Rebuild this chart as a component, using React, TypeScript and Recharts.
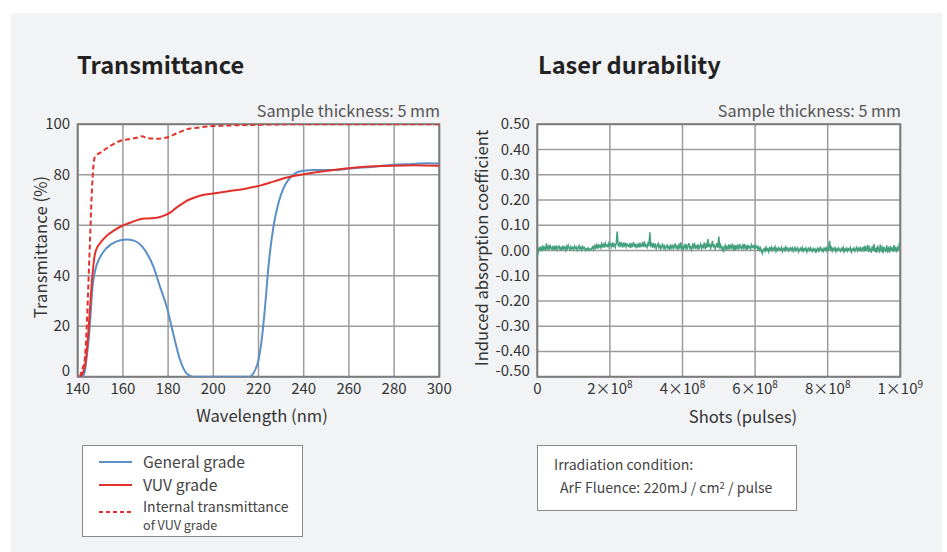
import React from 'react';
import { LineChart, Line, XAxis, YAxis, CartesianGrid, Legend, ReferenceArea } from 'recharts';

const FONT = '"Noto Sans CJK JP", "Noto Sans", sans-serif';

// ---------- Transmittance data ----------
const wavelengthTicks = [140, 160, 180, 200, 220, 240, 260, 280, 300];
const transmittanceTicks = [0, 20, 40, 60, 80, 100];

const generalWavelengths = [141.5, 142.5, 143.5, 144, 145, 145.5, 146.6, 147.7, 150, 152.8, 157, 161.7, 164.6, 169, 173.5, 176.4, 179.4, 182.3, 185.3, 188.2, 191, 200, 210, 216, 217.7, 220, 221.4, 222.9, 224.4, 226.6, 228.8, 231, 233.2, 236.2, 240, 244.3, 253, 262, 271, 279.7, 288.5, 295, 300];
const generalValues = [0, 0.5, 4, 8, 16, 22, 36, 42, 47.5, 51, 53.5, 54.4, 54, 51, 43.6, 35.7, 27.7, 17, 6.6, 1.3, 0, 0, 0, 0, 1.3, 6.6, 14.5, 27.7, 43.6, 59.4, 68.7, 74.6, 78, 80.6, 81.6, 81.9, 81.9, 82.6, 83.2, 84, 84.3, 84.6, 84.5];

const vuvWavelengths = [141, 142.5, 143.5, 144.5, 145.5, 146.5, 147.5, 148.5, 150, 151.4, 153.5, 155.8, 159.5, 163.2, 167.6, 170.5, 175, 177.9, 180.9, 183, 185.3, 187.5, 189.7, 194.1, 200, 206, 214.8, 220.7, 226.6, 232.5, 240, 247.2, 256, 265, 276.7, 288.5, 300];
const vuvValues = [0, 2, 6, 15, 28, 40, 48, 51, 53, 54.5, 56.3, 57.8, 59.7, 61, 62.4, 62.7, 63, 63.7, 65, 66.5, 68, 69.3, 70.3, 71.7, 72.6, 73.4, 74.6, 75.7, 77.3, 78.9, 80.2, 81.2, 82.2, 83, 83.5, 83.8, 83.6];

const internalWavelengths = [141, 142, 143, 144, 144.7, 145.4, 146.2, 147, 147.7, 149.9, 152, 154.3, 158.7, 163.2, 167.6, 168.5, 170.5, 175, 179.4, 183.8, 188.2, 194.1, 200, 210.4, 225, 240, 300];
const internalValues = [0, 3, 6, 20, 36, 53, 72, 84, 87.3, 88.7, 90, 91.4, 93.4, 94.2, 95, 95.3, 94.6, 94.3, 94.8, 96.4, 98, 98.8, 99.3, 99.6, 99.9, 100, 100];

const generalData = generalWavelengths.map((w, i) => ({ w, t: generalValues[i] }));
const vuvData = vuvWavelengths.map((w, i) => ({ w, t: vuvValues[i] }));
const internalData = internalWavelengths.map((w, i) => ({ w, t: internalValues[i] }));

// ---------- Laser durability data ----------
const shotTicks = [0, 2e8, 4e8, 6e8, 8e8, 1e9];
const shotTickMantissas = ['0', '2', '4', '6', '8', '1'];
const shotTickExponents = ['', '8', '8', '8', '8', '9'];
const coefTicks = [-0.5, -0.4, -0.3, -0.2, -0.1, 0, 0.1, 0.2, 0.3, 0.4, 0.5];
const shotStep = 2.5e6;
const coefValues = [
  -0.022, -0.005, 0.010, 0.002, 0.015, -0.002, 0.020, 0.006, 0.012, 0.000, 0.028, 0.008, 0.016, 0.003, 0.022, 0.010, 0.005, 0.018, 0.001, 0.014,
  0.007, 0.020, 0.003, 0.012, 0.017, 0.004, 0.011, 0.000, 0.019, 0.008, 0.013, 0.002, 0.016, 0.006, 0.021, 0.009, 0.003, 0.015, 0.007, 0.012,
  0.004, 0.017, 0.009, 0.014, 0.001, 0.011, 0.019, 0.006, 0.013, 0.002, 0.016, 0.008, 0.012, 0.000, 0.007, 0.003, 0.010, 0.001, 0.006, 0.002,
  0.009, 0.015, 0.004, 0.018, 0.010, 0.022, 0.008, 0.025, 0.013, 0.020, 0.011, 0.027, 0.016, 0.024, 0.012, 0.029, 0.018, 0.022, 0.014, 0.030,
  0.020, 0.026, 0.015, 0.032, 0.018, 0.024, 0.013, 0.030, 0.075, 0.022, 0.017, 0.034, 0.020, 0.028, 0.012, 0.026, 0.019, 0.031, 0.014, 0.025,
  0.021, 0.016, 0.029, 0.011, 0.024, 0.018, 0.033, 0.015, 0.027, 0.009, 0.022, 0.016, 0.030, 0.012, 0.025, 0.019, 0.028, 0.014, 0.036, 0.017,
  0.022, 0.013, 0.028, 0.017, 0.072, 0.020, 0.026, 0.011, 0.030, 0.015, 0.023, 0.008, 0.019, 0.027, 0.012, 0.021, 0.006, 0.017, 0.024, 0.010,
  0.018, 0.005, 0.015, 0.022, 0.009, 0.016, 0.003, 0.019, 0.011, 0.024, 0.007, 0.014, 0.028, 0.010, 0.017, 0.004, 0.021, 0.012, 0.032, 0.008,
  0.015, 0.006, 0.020, 0.011, 0.026, 0.004, 0.017, 0.029, 0.009, 0.014, 0.003, 0.021, 0.012, 0.030, 0.007, 0.018, 0.010, 0.024, 0.005, 0.016,
  0.026, 0.008, 0.019, 0.013, 0.031, 0.006, 0.022, 0.011, 0.045, 0.014, 0.027, 0.009, 0.020, 0.038, 0.012, 0.024, 0.007, 0.018, 0.029, 0.010,
  0.055, 0.014, 0.022, 0.004, 0.016, -0.006, 0.012, 0.020, 0.002, 0.015, 0.008, 0.024, 0.005, 0.018, 0.011, 0.027, 0.006, 0.016, 0.001, 0.021,
  0.009, 0.019, 0.004, 0.025, 0.012, 0.007, 0.020, 0.010, 0.026, 0.008, 0.017, 0.003, 0.022, 0.011, 0.015, 0.006, 0.023, 0.013, 0.018, 0.009,
  0.021, 0.012, 0.017, 0.005, 0.014, 0.002, 0.010, -0.004, -0.012, 0.003, 0.008, -0.002, 0.012, 0.001, 0.007, -0.005, 0.010, 0.004, 0.013, 0.000,
  0.009, 0.003, 0.014, -0.003, 0.008, 0.001, 0.011, 0.005, 0.002, 0.012, -0.004, 0.007, 0.010, 0.000, 0.013, 0.004, 0.009, -0.002, 0.006, 0.011,
  0.002, 0.010, -0.003, 0.008, 0.013, -0.001, 0.006, 0.011, -0.005, 0.004, 0.009, 0.001, 0.012, -0.003, 0.007, 0.002, 0.010, -0.006, 0.005, 0.009,
  0.000, 0.011, 0.003, -0.004, 0.008, 0.001, 0.006, -0.009, 0.004, 0.010, -0.002, 0.007, 0.012, 0.000, 0.005, -0.004, 0.009, 0.002, 0.011, -0.001,
  0.010, 0.004, 0.038, 0.006, 0.012, -0.002, 0.009, 0.003, 0.011, -0.004, 0.007, 0.001, 0.010, 0.004, -0.003, 0.008, 0.002, 0.012, -0.005, 0.006,
  0.000, 0.009, -0.002, 0.007, 0.003, 0.011, -0.006, 0.005, 0.001, 0.010, -0.003, 0.006, 0.013, -0.001, 0.008, 0.002, 0.015, -0.004, 0.007, 0.012,
  -0.004, 0.018, -0.002, 0.009, 0.022, -0.006, 0.012, 0.003, -0.008, 0.016, 0.000, 0.025, -0.005, 0.010, -0.009, 0.019, 0.002, -0.004, 0.023, 0.001,
  0.011, -0.010, 0.014, 0.004, -0.006, 0.020, -0.002, 0.008, -0.008, 0.017, 0.000, 0.012, -0.005, 0.021, -0.003, 0.009, -0.007, 0.015, 0.002, 0.028, 0.035,
];
const durabilityData = coefValues.map((c, i) => ({ s: i * shotStep, c }));

const legendItems = [
  { label: 'General grade', sub: '', color: '#5b8fc7', dash: '', size: 15.7 },
  { label: 'VUV grade', sub: '', color: '#e2312b', dash: '', size: 15.7 },
  { label: 'Internal transmittance', sub: 'of VUV grade', color: '#e2312b', dash: '4 3', size: 14 },
];

const BLUE = '#5b8fc7';
const RED = '#e2312b';
const GREEN = '#42a07c';
const GRID = '#9c9c9c';
const BORDER = '#7c7c7c';
const TICK = { fontSize: 15, fill: '#333', fontFamily: FONT };

const TransLegend = () => (
  <div
    style={{
      width: 221,
      height: 92,
      boxSizing: 'border-box',
      border: '1px solid #8a8a8a',
      background: '#fff',
      fontFamily: FONT,
      color: '#444',
      position: 'relative',
    }}
  >
    {legendItems.map((it, i) => (
      <div key={i} style={{ position: 'absolute', left: 0, top: 6 + i * 22.5, width: 219 }}>
        <svg width={40} height={10} style={{ position: 'absolute', left: 16, top: i === 2 ? 10 : 5 }}>
          <line x1={0} y1={5} x2={33} y2={5} stroke={it.color} strokeWidth={2} strokeDasharray={it.dash || undefined} />
        </svg>
        <div
          style={{
            position: 'absolute',
            left: 60,
            top: it.sub ? 1 : 0,
            fontSize: it.size,
            lineHeight: it.sub ? '16px' : '20px',
            whiteSpace: 'nowrap',
          }}
        >
          {it.label}
        </div>
        {it.sub ? (
          <div style={{ position: 'absolute', left: 60, top: 21.3, fontSize: 12.6, lineHeight: '14px', whiteSpace: 'nowrap' }}>
            {it.sub}
          </div>
        ) : null}
      </div>
    ))}
  </div>
);

const makeYTick = (minValue: number, fmt: (v: number) => string) => (props: any) => {
  const { x, y, payload } = props;
  const v = payload.value as number;
  const shift = Math.abs(v - minValue) < 1e-9 ? -6 : 0;
  return (
    <text x={x} y={y + shift} dy={5} textAnchor="end" fontSize={15} fill="#333" fontFamily={FONT}>
      {fmt(v)}
    </text>
  );
};

const TransYTick = makeYTick(0, (v) => String(v));
const CoefYTick = makeYTick(-0.5, (v) => v.toFixed(2));

const ShotTick = (props: any) => {
  const { x, y, payload, index } = props;
  const idx = typeof index === 'number' ? index : shotTicks.indexOf(payload.value);
  const m = shotTickMantissas[idx] ?? '';
  const e = shotTickExponents[idx] ?? '';
  return (
    <text x={x} y={y + 11} textAnchor="middle" fontSize={15} fill="#333" fontFamily={FONT}>
      {e ? (
        <>
          <tspan>{m + '×10'}</tspan>
          <tspan fontSize={10} dy={-6}>{e}</tspan>
        </>
      ) : (
        <tspan>{m}</tspan>
      )}
    </text>
  );
};

const textBase: React.CSSProperties = { position: 'absolute', fontFamily: FONT, whiteSpace: 'nowrap' };

export default function App() {
  return (
    <div style={{ position: 'absolute', left: 0, top: 0, width: 947, height: 552, background: '#fff', overflow: 'hidden' }}>
      <div style={{ position: 'absolute', left: 11, top: 13, width: 931, height: 539, background: '#f2f3f5' }} />

      {/* Titles */}
      <div style={{ ...textBase, left: 77, top: 47, fontSize: 23.6, fontWeight: 700, color: '#222', lineHeight: '34px' }}>Transmittance</div>
      <div style={{ ...textBase, left: 538, top: 47, fontSize: 23.6, fontWeight: 700, color: '#222', lineHeight: '34px' }}>Laser durability</div>

      <div style={{ ...textBase, right: 947 - 440, top: 98, fontSize: 16.2, color: '#555', lineHeight: '24px' }}>Sample thickness: 5 mm</div>
      <div style={{ ...textBase, right: 947 - 901, top: 98, fontSize: 16.2, color: '#555', lineHeight: '24px' }}>Sample thickness: 5 mm</div>

      {/* Left chart */}
      <div style={{ position: 'absolute', left: 0, top: 0 }}>
        <LineChart width={460} height={552} margin={{ top: 124.3, right: 20.7, bottom: 145.3, left: 37.7 }}>
          <CartesianGrid stroke={GRID} strokeWidth={1.5} fill="#fff" />
          <XAxis
            type="number"
            dataKey="w"
            domain={[140, 300]}
            ticks={wavelengthTicks}
            allowDataOverflow
            axisLine={false}
            tickLine={false}
            tickSize={0}
            tickMargin={6.5}
            tick={TICK}
            height={30}
            interval={0}
          />
          <YAxis
            type="number"
            dataKey="t"
            domain={[0, 100]}
            ticks={transmittanceTicks}
            allowDataOverflow
            axisLine={false}
            tickLine={false}
            tickSize={0}
            tickMargin={7.5}
            tick={<TransYTick />}
            width={40}
            interval={0}
          />
          <ReferenceArea x1={140} x2={300} y1={0} y2={100} fill="none" stroke={BORDER} strokeWidth={2} fillOpacity={0} />
          <Line data={generalData} dataKey="t" type="monotone" stroke={BLUE} strokeWidth={2} dot={false} isAnimationActive={false} name="General grade" />
          <Line data={vuvData} dataKey="t" type="monotone" stroke={RED} strokeWidth={2} dot={false} isAnimationActive={false} name="VUV grade" />
          <Line data={internalData} dataKey="t" type="monotone" stroke={RED} strokeWidth={2} strokeDasharray="5 3" dot={false} isAnimationActive={false} name="Internal transmittance of VUV grade" />
          <Legend
            layout="vertical"
            align="center"
            verticalAlign="middle"
            content={() => <TransLegend />}
            wrapperStyle={{ position: 'absolute', left: 82, top: 445, width: 221, height: 92, bottom: 'auto', right: 'auto' }}
          />
        </LineChart>
      </div>

      {/* Right chart */}
      <div style={{ position: 'absolute', left: 460, top: 0 }}>
        <LineChart width={487} height={552} data={durabilityData} margin={{ top: 124.3, right: 46.7, bottom: 145.3, left: 27.3 }}>
          <CartesianGrid stroke={GRID} strokeWidth={1.5} fill="#fff" />
          <XAxis
            type="number"
            dataKey="s"
            domain={[0, 1e9]}
            ticks={shotTicks}
            allowDataOverflow
            axisLine={false}
            tickLine={false}
            tickSize={0}
            tickMargin={6.5}
            tick={<ShotTick />}
            height={30}
            interval={0}
          />
          <YAxis
            type="number"
            domain={[-0.5, 0.5]}
            ticks={coefTicks}
            allowDataOverflow
            axisLine={false}
            tickLine={false}
            tickSize={0}
            tickMargin={7.5}
            tick={<CoefYTick />}
            width={50}
            interval={0}
          />
          <ReferenceArea x1={0} x2={1e9} y1={-0.5} y2={0.5} fill="none" stroke={BORDER} strokeWidth={2} fillOpacity={0} />
          <Line dataKey="c" type="linear" stroke={GREEN} strokeWidth={1.5} dot={false} isAnimationActive={false} />
        </LineChart>
      </div>

      {/* Axis titles */}
      <div style={{ ...textBase, left: 39.5, top: 247, fontSize: 16.8, color: '#333', transform: 'translate(-50%, -50%) rotate(-90deg)' }}>Transmittance (%)</div>
      <div style={{ ...textBase, left: 262, top: 415, fontSize: 16.6, color: '#333', transform: 'translate(-50%, -50%)' }}>Wavelength (nm)</div>
      <div style={{ ...textBase, left: 481, top: 248, fontSize: 16.6, color: '#333', transform: 'translate(-50%, -50%) rotate(-90deg)' }}>Induced absorption coefficient</div>
      <div style={{ ...textBase, left: 743, top: 416, fontSize: 16.6, color: '#333', transform: 'translate(-50%, -50%)' }}>Shots (pulses)</div>

      {/* Irradiation box */}
      <div style={{ position: 'absolute', left: 537, top: 445, width: 260, height: 66, boxSizing: 'border-box', border: '1px solid #8a8a8a', background: '#fff', fontFamily: FONT, color: '#444' }}>
        <div style={{ ...textBase, left: 16, top: 8, fontSize: 14.1, lineHeight: '20px' }}>Irradiation condition:</div>
        <div style={{ ...textBase, left: 22, top: 31, fontSize: 14.1, lineHeight: '20px' }}>
          ArF Fluence: 220mJ / cm<sup style={{ fontSize: 9.5, verticalAlign: 'top', position: 'relative', top: -2 }}>2</sup> / pulse
        </div>
      </div>
    </div>
  );
}
